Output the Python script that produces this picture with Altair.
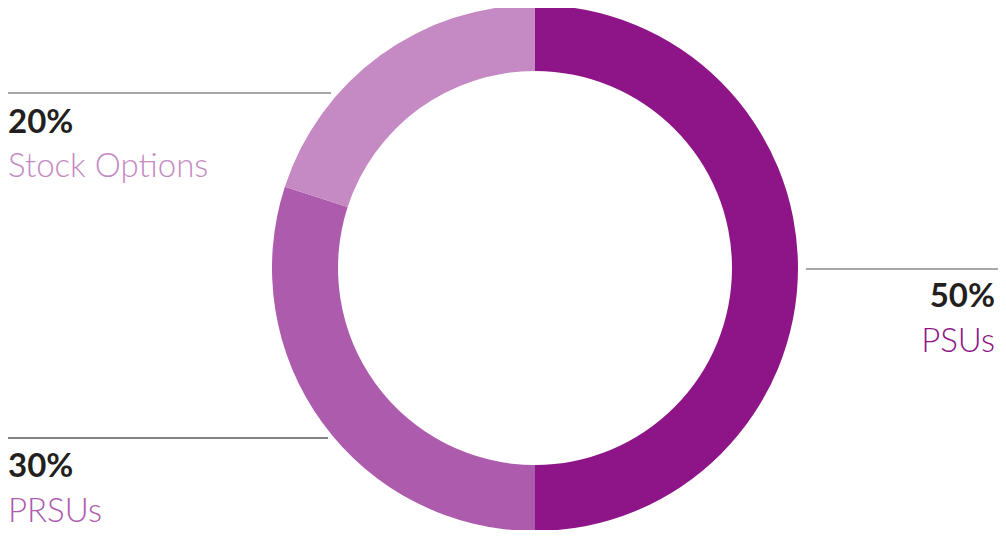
import altair as alt
import pandas as pd

categories = ["PSUs", "PRSUs", "Stock Options"]
shares = [50, 30, 20]
pct_labels = ["50%", "30%", "20%"]
colors = ["#8E1587", "#AD5BAD", "#C58AC4"]

W, H = 990, 522
CX, CY = 527, 260
R_OUT, R_IN = 263, 197

df = pd.DataFrame({"category": categories, "share": shares, "order": [0, 1, 2]})

ring = alt.Chart(df).mark_arc(outerRadius=R_OUT, innerRadius=R_IN, stroke=None).encode(
    theta=alt.Theta("share:Q", stack=True),
    order=alt.Order("order:Q"),
    color=alt.Color("category:N", scale=alt.Scale(domain=categories, range=colors), legend=None),
    x=alt.value(CX),
    y=alt.value(CY),
)

# label layout: (line x1, line x2, line y, text x, align, pct baseline, name baseline, line color)
layout = {
    "PSUs": (798, W, 261, W - 3, "right", 299, 344, "#8a8a8a"),
    "PRSUs": (0, 320, 430, 0, "left", 469, 514, "#5a5a5a"),
    "Stock Options": (0, 323, 85, 0, "left", 125, 169, "#8a8a8a"),
}

layers = [ring]
base = alt.Chart(pd.DataFrame({"d": [0]}))
for cat, pct, col in zip(categories, pct_labels, colors):
    x1, x2, ly, tx, al, pb, nb, lc = layout[cat]
    layers.append(base.mark_rule(color=lc, strokeWidth=1.5).encode(
        x=alt.value(x1), x2=alt.value(x2), y=alt.value(ly)))
    layers.append(base.mark_text(text=pct, font="Lato", fontWeight="bold", fontSize=33,
                                 color="#231F20", align=al, baseline="alphabetic").encode(
        x=alt.value(tx), y=alt.value(pb)))
    layers.append(base.mark_text(text=cat, font="Lato", fontWeight=300, fontSize=33,
                                 color=col, align=al, baseline="alphabetic").encode(
        x=alt.value(tx), y=alt.value(nb)))

chart = alt.layer(*layers).properties(
    width=W, height=H, padding=0, autosize=alt.AutoSizeParams(type="none")
).configure_view(stroke=None)

chart.save("out.html", embed_options={"renderer": "svg", "actions": False})
